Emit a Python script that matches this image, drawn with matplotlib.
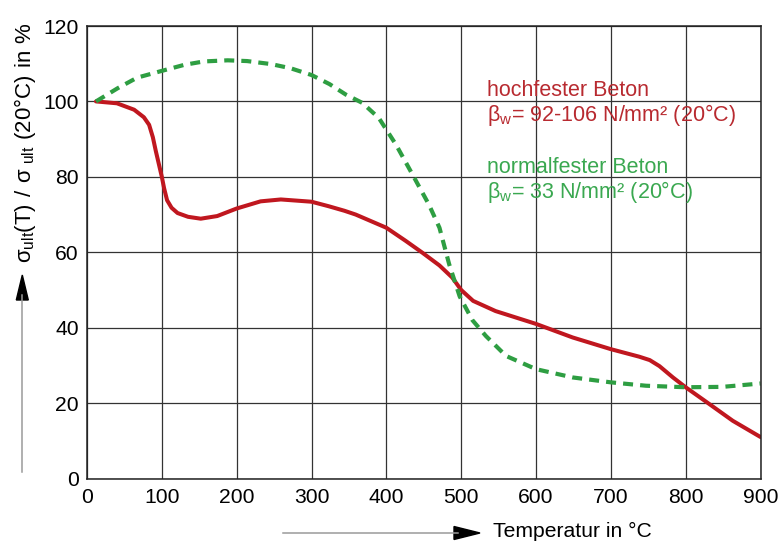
import numpy as np
import matplotlib.pyplot as plt
from matplotlib.lines import Line2D
from matplotlib.patches import Polygon

plt.rcParams['font.family'] = ['Liberation Sans', 'DejaVu Sans']

# hochfester Beton (red, solid)
T_hf = [12, 40, 63, 76, 83, 88, 92, 100, 103, 107, 113, 121, 135, 152, 174, 200, 232, 259, 300, 323,
        344, 359, 400, 426, 448, 471, 488, 500, 516, 546, 600, 649, 700, 738,
        752, 765, 783, 800, 827, 863, 900]
s_hf = [100, 99.5, 97.8, 95.8, 93.8, 90.5, 86.8, 80, 77, 73.8, 71.8, 70.4, 69.4, 68.9, 69.6, 71.6, 73.5, 74, 73.4, 72.2,
        71, 70, 66.5, 63, 59.9, 56.5, 53.3, 50, 47.1, 44.4, 41, 37.4, 34.3, 32.3,
        31.4, 29.8, 26.8, 24.2, 20.4, 15.3, 11]

# normalfester Beton (green, dashed)
T_nf = [12, 41, 67, 100, 130, 156, 188, 214, 246, 272, 300, 324, 346, 368, 390,
        413, 435, 457, 471, 484, 498, 515, 533, 560, 600, 649, 700, 747, 800,
        849, 889, 900]
s_nf = [100, 103.5, 106.3, 108.1, 109.7, 110.6, 110.9, 110.7, 109.9, 108.8, 107, 104.6, 101.8, 99.6, 95.6,
        88.5, 80.6, 72.6, 66.5, 56.8, 48.3, 42, 37.8, 32.5, 29, 26.8, 25.5, 24.6, 24.2,
        24.3, 25, 25.2]

red = '#c0171f'
green = '#2e9e42'
red_txt = '#b82a30'
green_txt = '#3aa850'

W, H = 779, 541
fig = plt.figure(figsize=(W / 100, H / 100), dpi=100)
ax = fig.add_axes([87 / W, 1 - 478.5 / H, (760.5 - 87) / W, (478.5 - 26) / H])

ax.plot(T_hf, s_hf, color=red, lw=2.9, solid_joinstyle='round', solid_capstyle='round')
ax.plot(T_nf, s_nf, color=green, lw=3.0, dashes=(2.4, 1.7))

ax.set_xlim(0, 900)
ax.set_ylim(0, 120)
ax.set_xticks(range(0, 901, 100))
ax.set_yticks(range(0, 121, 20))
ax.grid(True, color='#333333', lw=0.9)
ax.tick_params(length=0, labelsize=15.2)
ax.tick_params(axis='x', pad=7)
ax.tick_params(axis='y', pad=6)
for s in ax.spines.values():
    s.set_linewidth(1.1)
    s.set_color('#222222')

fs = 15.5
ax.text(535, 102.8, 'hochfester Beton', color=red_txt, fontsize=fs, va='center')
ax.text(535, 96.3, r'$\mathregular{\beta_w}$= 92-106 N/mm² (20°C)', color=red_txt, fontsize=fs, va='center')
ax.text(535, 82.4, 'normalfester Beton', color=green_txt, fontsize=fs, va='center')
ax.text(535, 75.9, r'$\mathregular{\beta_w}$= 33 N/mm² (20°C)', color=green_txt, fontsize=fs, va='center')

# y label with arrow
fig.text(25 / W, 1 - 143 / H, r'$\mathregular{\sigma_{ult}(T)\ /\ \sigma_{\ ult}\ (20°C)\ in\ \%}$',
         rotation=90, fontsize=16, ha='center', va='center')
fig.add_artist(Line2D([22.3 / W, 22.3 / W], [1 - 472 / H, 1 - 295 / H], color='#9a9a9a', lw=1.1))
fig.add_artist(Polygon([[16.3 / W, 1 - 300 / H], [28.3 / W, 1 - 300 / H], [22.3 / W, 1 - 275 / H]],
                       closed=True, color='black', transform=fig.transFigure))

# x label with arrow
fig.text(493 / W, 1 - 531 / H, 'Temperatur in °C', fontsize=15.2, ha='left', va='center')
fig.add_artist(Line2D([283 / W, 458 / W], [1 - 533 / H, 1 - 533 / H], color='#9a9a9a', lw=1.1))
fig.add_artist(Polygon([[454 / W, 1 - 526.5 / H], [454 / W, 1 - 539.5 / H], [480 / W, 1 - 533 / H]],
                       closed=True, color='black', transform=fig.transFigure))

fig.savefig('out.png', dpi=100)
